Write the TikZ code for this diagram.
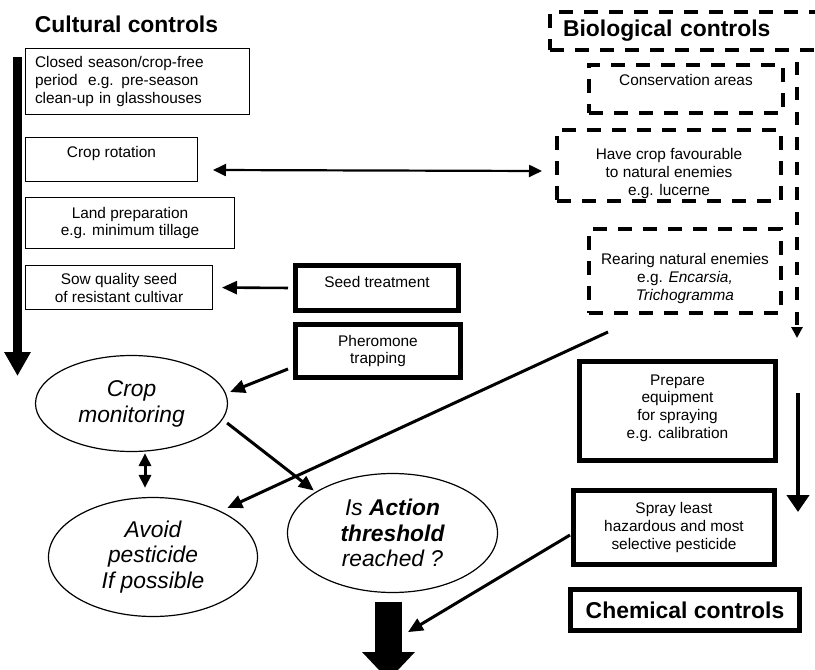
\documentclass[tikz,border=0pt]{standalone}
\usepackage{fontspec}
\setmainfont{Liberation Sans}
\usetikzlibrary{arrows.meta, shapes.geometric}
\newcommand{\boxfont}{\fontsize{15.4pt}{17.6pt}\selectfont}
\newcommand{\ovalfont}{\fontsize{22.8pt}{25.8pt}\selectfont\itshape}
\newcommand{\headfont}{\fontsize{22.9pt}{26pt}\selectfont\bfseries}

\begin{document}
\begin{tikzpicture}[x=1pt, y=-1pt,
      >={Triangle[length=15pt,width=13pt]},
      tbox/.style={draw, line width=1.3pt, font=\boxfont, align=center, inner sep=0pt},
      kbox/.style={draw, line width=5pt, font=\boxfont, align=center, inner sep=0pt},
      dbox/.style={draw, line width=4pt, dash pattern=on 14pt off 11pt,
        font=\boxfont, align=center, inner sep=0pt},
      oval/.style={draw, ellipse, line width=1.2pt, font=\ovalfont, align=center, inner sep=0pt},
      head/.style={font=\headfont, inner sep=0pt},
      flow/.style={->, line width=3pt},
      twoway/.style={{Triangle[length=13pt,width=12pt]}-{Triangle[length=13pt,width=12pt]},
        line width=2.2pt}]
    \useasboundingbox (0,0) rectangle (815,670);
    \clip (0,0) rectangle (815,670);

    % cultural controls
    \node[head] (cult) at (126.5,24) {Cultural controls};
    \node[tbox, minimum height=65.7pt, text width=205pt, align=left, inner xsep=9.35pt]
      (close) at (137.5,81.5) {Closed season/crop-free\\ period\ \ e.g. pre-season\\ clean-up in glasshouses};
    \node[tbox, minimum width=171.7pt, minimum height=43.7pt, text height=3pt, text depth=8pt]
      (rot) at (111.5,159.5) {Crop rotation};
    \node[tbox, minimum width=208.7pt, minimum height=50.7pt]
      (land) at (130,223) {Land preparation\\ e.g. minimum tillage};
    \node[tbox, minimum width=186.7pt, minimum height=43.7pt, text height=32pt, text depth=3pt]
      (sow) at (119,287.5) {Sow quality seed\\ of resistant cultivar};
    \node[kbox, minimum width=163pt, minimum height=45pt, text height=4pt, text depth=6pt]
      (seed) at (377,288) {Seed treatment};
    \node[kbox, minimum width=165pt, minimum height=53pt]
      (phero) at (378,351) {Pheromone\\ trapping};

    \node[oval, minimum width=192pt, minimum height=96pt] (mon) at (131.5,403.5) {Crop\\ monitoring};
    \node[oval, minimum width=209pt, minimum height=119pt] (avoid) at (153,557) {Avoid\\ pesticide\\ If possible};
    \node[oval, minimum width=210pt, minimum height=119pt]
      (act) at (392.5,533) {Is \textbf{Action}\\ \textbf{threshold}\\ reached ?};

    % biological controls
    \node[dbox, head, text width=254pt, align=left, inner xsep=13pt, minimum height=38pt]
      (bio) at (690,31) {Biological controls};
    \node[dbox, minimum width=194pt, minimum height=48pt, text height=0pt, text depth=8pt]
      (cons) at (686,89) {Conservation areas};
    \node[dbox, minimum width=224pt, minimum height=71pt, text height=62pt, text depth=3pt]
      (fav) at (669,165.5) {Have crop favourable\\ to natural enemies\\ e.g. lucerne};
    \node[dbox, minimum width=192pt, minimum height=84pt, text height=61pt, text depth=3pt]
      (rear) at (685,271) {Rearing natural enemies\\ e.g. \textit{Encarsia,}\\ \textit{Trichogramma}};

    % chemical controls
    \node[kbox, minimum width=196pt, minimum height=99pt, text height=57pt, text depth=3pt]
      (prep) at (677.5,411) {Prepare\\ equipment\\ for spraying\\ e.g. calibration};
    \node[kbox, minimum width=201pt, minimum height=74pt]
      (spray) at (674,527.5) {Spray least\\ hazardous and most\\ selective pesticide};
    \node[kbox, head, minimum width=229pt, minimum height=41pt] (chem) at (685,610) {Chemical controls};

    \coordinate (cultTop) at ([shift={(-7.5,9)}]close.north west);
    \coordinate (bioTop) at ([shift={(12,-1)}]cons.north east);
    \coordinate (chemTop) at ([shift={(20,-18)}]prep.east);
    \coordinate (drop) at ([shift={(-4,9)}]act.south);
    \coordinate (hit) at ([shift={(19.5,30)}]drop);

    \draw[line width=9pt, -{Triangle[length=24pt,width=25pt]}] (cultTop) -- ++(0,319);
    \draw[line width=4pt, dash pattern=on 13pt off 12pt, -{Triangle[length=11pt,width=11pt]}]
      (bioTop) -- ++(0,276);
    \draw[line width=4.3pt, -{Triangle[length=17pt,width=22pt]}] (chemTop) -- ++(0,119);
    \draw[line width=27pt, -{Triangle[length=28pt,width=51pt]}] (drop) -- ++(0,78);

    \draw[twoway] ([shift={(15,10.5)}]rot.east) -- ([shift={(-13,5.5)}]fav.west);
    \draw[flow, line width=2.6pt, shorten <=5pt, shorten >=9pt] (seed.west) -- (sow.east);
    \draw[flow] ([shift={(-5,18)}]phero.west) -- ([shift={(2,-11.5)}]mon.east);
    \draw[flow] ([shift={(-1,19.5)}]mon.east) -- ([xshift=-4pt]act.north west);
    \draw[twoway, line width=3pt] ([shift={(13.5,1)}]mon.south) -- ([shift={(-8,-9)}]avoid.north);
    \draw[flow] ([shift={(21,17)}]rear.south west) -- ([shift={(0,-6.5)}]avoid.north east);
    \draw[flow] ([shift={(-1,7.5)}]spray.west) -- (hit);
  \end{tikzpicture}
\end{document}
